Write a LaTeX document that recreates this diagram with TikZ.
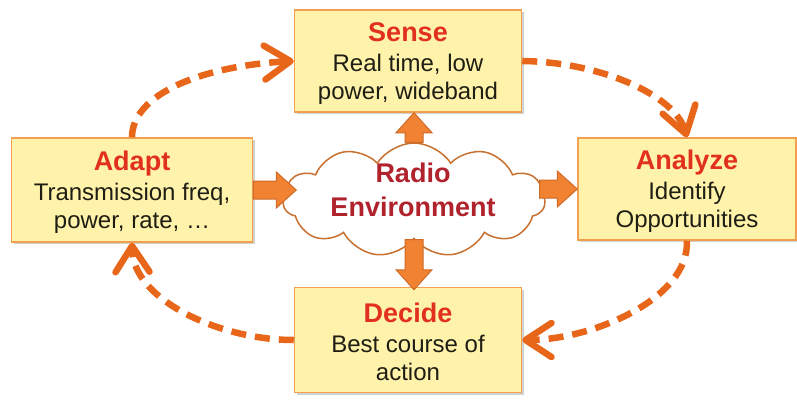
\documentclass[tikz,border=0pt]{standalone}
\usepackage{fontspec}
\setmainfont{Liberation Sans}
\usetikzlibrary{shapes.symbols,arrows.meta,calc,shadows}

\definecolor{boxfill}{HTML}{FFF2AA}
\definecolor{boxline}{HTML}{F0A050}
\definecolor{titlered}{HTML}{E2301F}
\definecolor{bodytext}{HTML}{1E1E14}
\definecolor{envred}{HTML}{B0222C}
\definecolor{cloudline}{HTML}{C8702F}
\definecolor{blockfill}{HTML}{F08232}
\definecolor{blockline}{HTML}{D06A28}
\definecolor{loopline}{HTML}{E8661A}

% bold red heading on the first line of each stage box
\newcommand{\stagetitle}[1]{{\fontsize{27}{31}\selectfont\bfseries\color{titlered}\rule{0pt}{24pt}#1}}

\begin{document}
\begin{tikzpicture}[x=1pt, y=-1pt,
  stagebox/.style={draw=boxline, line width=1.5pt, fill=boxfill,
    inner sep=0pt, align=center, text=bodytext,
    font=\fontsize{24}{28}\selectfont,
    drop shadow={shadow xshift=2pt, shadow yshift=-2pt, opacity=.3, fill=black!60}},
  cloudshape/.style={cloud, cloud puffs=11, cloud puff arc=115, aspect=2.3,
    draw=cloudline, line width=1.5pt, fill=white,
    minimum width=262pt, minimum height=114pt, inner sep=0pt},
  cloudtext/.style={align=center, text=envred,
    font=\fontsize{27}{34}\selectfont\bfseries},
  blockarrow/.style={draw=blockline, line width=1pt, fill=blockfill,
    to path={($(\tikztostart)!9pt!90:(\tikztotarget)$)
      -- ($(\tikztotarget)!20pt!(\tikztostart)!9pt!-90:(\tikztostart)$)
      -- ($(\tikztotarget)!20pt!(\tikztostart)!18pt!-90:(\tikztostart)$)
      -- (\tikztotarget)
      -- ($(\tikztotarget)!20pt!(\tikztostart)!18pt!90:(\tikztostart)$)
      -- ($(\tikztotarget)!20pt!(\tikztostart)!9pt!90:(\tikztostart)$)
      -- ($(\tikztostart)!9pt!-90:(\tikztotarget)$) -- cycle}},
  cycleloop/.style={draw=loopline, line width=6.5pt, dash pattern=on 15pt off 9pt,
    -{Straight Barb[length=26pt, width=34pt, round]}}
]
\useasboundingbox (0,0) rectangle (797,399);

% the four stages of the cycle
\node[stagebox, minimum width=227pt, minimum height=102pt] (sense) at (408,61)
  {\stagetitle{Sense}\\[2pt]Real time, low\\power, wideband};
\node[stagebox, minimum width=241pt, minimum height=104pt] (adapt) at (132,190)
  {\stagetitle{Adapt}\\[2pt]Transmission freq,\\power, rate, \dots};
\node[stagebox, minimum width=218pt, minimum height=102pt] (analyze) at (687,189)
  {\stagetitle{Analyze}\\[2pt]Identify\\Opportunities};
\node[stagebox, minimum width=227pt, minimum height=105pt] (decide) at (408,340)
  {\stagetitle{Decide}\\[2pt]Best course of\\action};

% the environment in the middle
\node[cloudshape] (cloud) at (414,200) {};
\node[cloudtext] (env) at (413,190) {Radio\\Environment};

% block arrows between the environment and the stages
\coordinate (upend) at (cloud.north |- sense.south);
\coordinate (downend) at (cloud.south |- decide.north);
\coordinate (intip) at ($(cloud.west |- adapt.east)+(14,0)$);
\coordinate (outtail) at ($(cloud.east |- analyze.west)+(-6,0)$);
\draw[blockarrow] (cloud.north) to (upend);
\draw[blockarrow] (cloud.south) to ($(downend)+(0,3)$);
\draw[blockarrow] (adapt.east) to (intip);
\draw[blockarrow] (outtail) to (analyze.west);

% dashed cycle around the stages
\draw[cycleloop] (adapt.north) .. controls (132,95) and (200,66) .. (sense.west);
\draw[cycleloop] (sense.east) .. controls (600,62) and (675,95) .. (analyze.north);
\draw[cycleloop] (analyze.south) .. controls (689,300) and (590,340) .. (decide.east);
\draw[cycleloop] (decide.west) .. controls (220,340) and (133,300) .. (adapt.south);
\end{tikzpicture}
\end{document}
